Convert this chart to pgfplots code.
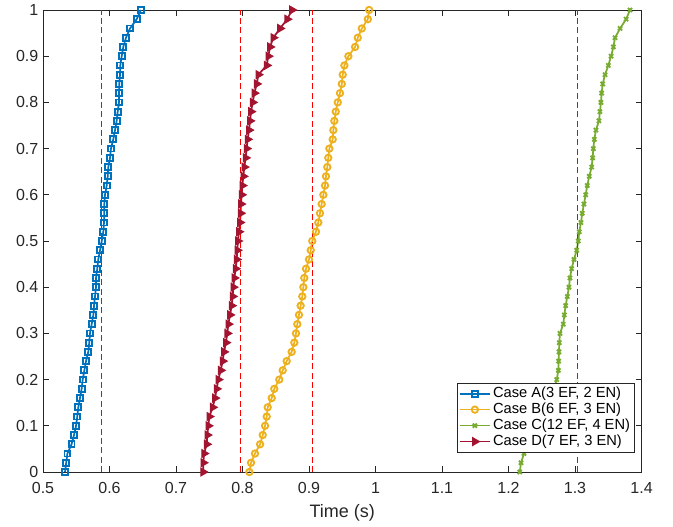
\documentclass[border=0pt]{standalone}
\usepackage{pgfplots}
\pgfplotsset{compat=1.18}
\usepackage{fontspec}
\setmainfont{Liberation Sans}
\definecolor{cA}{RGB}{0,114,189}
\definecolor{cB}{RGB}{237,177,32}
\definecolor{cC}{RGB}{119,172,48}
\definecolor{cD}{RGB}{162,20,47}
\definecolor{axgray}{RGB}{38,38,38}

\begin{document}
\begin{tikzpicture}
\begin{axis}[
  at={(0,0)}, anchor=south west,
  scale only axis, width=448.9pt, height=346.5pt,
  xmin=0.5, xmax=1.4, ymin=0, ymax=1,
  xtick={0.5,0.6,0.7,0.8,0.9,1,1.1,1.2,1.3,1.4},
  ytick={0,0.1,0.2,0.3,0.4,0.5,0.6,0.7,0.8,0.9,1},
  /pgf/number format/assume math mode=true,
  ticklabel style={font=\fontsize{12}{14}\selectfont, text=axgray},
  xticklabel style={yshift=-4pt},
  yticklabel style={xshift=0pt},
  tick align=inside, major tick length=4.5pt,
  tick style={axgray, line width=0.6pt},
  axis line style={axgray, line width=0.6pt},
  xlabel={Time (s)},
  xlabel style={font=\fontsize{13.5}{15}\selectfont, text=axgray, at={(axis description cs:0.5,0)}, anchor=center, yshift=-31pt},
  legend cell align=left,
  legend style={at={(rel axis cs:0.989,0.043)}, anchor=south east,
    font=\fontsize{11}{11.5}\selectfont, draw=axgray,
    inner xsep=1.5pt, inner ysep=1pt, row sep=-1.5pt},
  legend image code/.code={\draw[mark repeat=2,mark phase=2,#1,line width=1.3pt] plot coordinates {(0pt,0pt) (11pt,0pt) (22pt,0pt)};},
]
% Case A
\addplot[cA, line width=1.3pt, mark=square, mark size=2.2pt, mark options={solid, line width=1.4pt}]
coordinates {
(0.5331,0) (0.5349,0.02) (0.5367,0.04) (0.5429,0.06) (0.5466,0.08) (0.5497,0.10)
(0.5515,0.12) (0.5531,0.14) (0.5556,0.16) (0.5581,0.18) (0.5597,0.20)
(0.5622,0.22) (0.5647,0.24) (0.5681,0.26) (0.5696,0.28) (0.5706,0.30)
(0.5732,0.32) (0.5757,0.34) (0.5767,0.36) (0.5782,0.38) (0.5797,0.40)
(0.5797,0.42) (0.5816,0.44) (0.5831,0.46) (0.5858,0.48) (0.5883,0.50)
(0.5907,0.52) (0.5917,0.54) (0.5922,0.56) (0.5922,0.58) (0.5932,0.60)
(0.5958,0.62) (0.5973,0.64) (0.5982,0.66) (0.6008,0.68) (0.6022,0.70)
(0.6057,0.72) (0.6083,0.74) (0.6108,0.76) (0.6123,0.78) (0.6143,0.80)
(0.6143,0.82) (0.6147,0.84) (0.6158,0.86) (0.6162,0.88) (0.6183,0.90)
(0.6207,0.92) (0.6248,0.94) (0.6308,0.96) (0.6408,0.98) (0.6473,1)
};
\addlegendentry{Case A(3 EF, 2 EN)}
% Case B
\addplot[cB, line width=1.3pt, mark=o, mark size=2.4pt, mark options={solid, line width=1.4pt}]
coordinates {
(0.8103,0) (0.8128,0.02) (0.8188,0.04) (0.8264,0.06) (0.8304,0.08) (0.8339,0.10)
(0.8364,0.12) (0.8379,0.14) (0.8439,0.16) (0.8478,0.18) (0.8553,0.20)
(0.8604,0.22) (0.8664,0.24) (0.8739,0.26) (0.8779,0.28) (0.8804,0.30)
(0.8824,0.32) (0.8849,0.34) (0.8874,0.36) (0.8899,0.38) (0.8915,0.40)
(0.8929,0.42) (0.8955,0.44) (0.9000,0.46) (0.9026,0.48) (0.9049,0.50)
(0.9105,0.52) (0.9140,0.54) (0.9165,0.56) (0.9190,0.58) (0.9216,0.60)
(0.9241,0.62) (0.9255,0.64) (0.9275,0.66) (0.9290,0.68) (0.9306,0.70)
(0.9356,0.72) (0.9366,0.74) (0.9381,0.76) (0.9402,0.78) (0.9432,0.80)
(0.9466,0.82) (0.9493,0.84) (0.9507,0.86) (0.9532,0.88) (0.9592,0.90)
(0.9693,0.92) (0.9733,0.94) (0.9794,0.96) (0.9884,0.98) (0.9904,1)
};
\addlegendentry{Case B(6 EF, 3 EN)}
% Case C
\addplot[cC, line width=1.3pt, mark=x, mark size=2.2pt, mark options={solid, line width=1.4pt}]
coordinates {
(1.2169,0) (1.2188,0.02) (1.2232,0.04) (1.2277,0.06) (1.2338,0.08) (1.2397,0.10)
(1.2473,0.12) (1.2548,0.14) (1.2623,0.16) (1.2683,0.18) (1.2725,0.20)
(1.2749,0.22) (1.2754,0.24) (1.2759,0.26) (1.2763,0.28) (1.2774,0.30)
(1.2823,0.32) (1.2839,0.34) (1.2859,0.36) (1.2884,0.38) (1.2909,0.40)
(1.2924,0.42) (1.2949,0.44) (1.2984,0.46) (1.3025,0.48) (1.3049,0.50)
(1.3064,0.52) (1.3089,0.54) (1.3109,0.56) (1.3134,0.58) (1.3160,0.60)
(1.3184,0.62) (1.3214,0.64) (1.3250,0.66) (1.3265,0.68) (1.3275,0.70)
(1.3290,0.72) (1.3315,0.74) (1.3360,0.76) (1.3375,0.78) (1.3390,0.80)
(1.3400,0.82) (1.3416,0.84) (1.3451,0.86) (1.3501,0.88) (1.3542,0.90)
(1.3577,0.92) (1.3602,0.94) (1.3677,0.96) (1.3768,0.98) (1.3827,1)
};
\addlegendentry{Case C(12 EF, 4 EN)}
% Case D
\addplot[cD, line width=1.3pt, mark=triangle*, mark size=3.2pt, mark options={solid, rotate=-90, fill=cD, line width=1pt}]
coordinates {
(0.7407,0) (0.7411,0.02) (0.7422,0.04) (0.7462,0.06) (0.7471,0.08) (0.7486,0.10)
(0.7501,0.12) (0.7552,0.14) (0.7586,0.16) (0.7611,0.18) (0.7636,0.20)
(0.7672,0.22) (0.7702,0.24) (0.7721,0.26) (0.7751,0.28) (0.7771,0.30)
(0.7787,0.32) (0.7812,0.34) (0.7837,0.36) (0.7852,0.38) (0.7862,0.40)
(0.7877,0.42) (0.7897,0.44) (0.7912,0.46) (0.7922,0.48) (0.7931,0.50)
(0.7947,0.52) (0.7962,0.54) (0.7972,0.56) (0.7977,0.58) (0.7987,0.60)
(0.7997,0.62) (0.8012,0.64) (0.8027,0.66) (0.8047,0.68) (0.8062,0.70)
(0.8077,0.72) (0.8098,0.74) (0.8113,0.76) (0.8128,0.78) (0.8153,0.80)
(0.8178,0.82) (0.8214,0.84) (0.8238,0.86) (0.8364,0.88) (0.8388,0.90)
(0.8414,0.92) (0.8463,0.94) (0.8564,0.96) (0.8672,0.98) (0.8744,1)
};
\addlegendentry{Case D(7 EF, 3 EN)}
% dashed reference lines
\addplot[red, line width=0.7pt, dash pattern=on 4.5pt off 2.5pt, forget plot] coordinates {(0.5883,0) (0.5883,1)};
\addplot[red, line width=0.7pt, dash pattern=on 4.5pt off 2.5pt, forget plot] coordinates {(0.7962,0) (0.7962,1)};
\addplot[red, line width=0.7pt, dash pattern=on 4.5pt off 2.5pt, forget plot] coordinates {(0.9050,0) (0.9050,1)};
\addplot[red, line width=0.7pt, dash pattern=on 4.5pt off 2.5pt, forget plot] coordinates {(1.3035,0) (1.3035,1)};
\end{axis}
\pgfresetboundingbox
\path[use as bounding box] (-32.25pt,-41.25pt) rectangle (472.5pt,354pt);
\end{tikzpicture}
\end{document}
